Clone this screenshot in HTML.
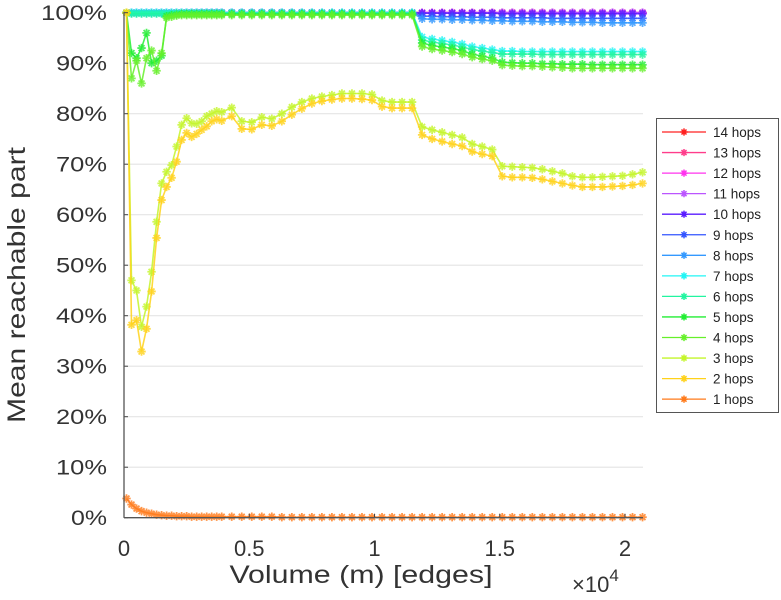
<!DOCTYPE html>
<html><head><meta charset="utf-8"><style>
html,body{margin:0;padding:0;background:#fff;}
svg{display:block;font-family:"Liberation Sans",sans-serif;}
</style></head><body>
<svg id="chart" width="781" height="600" viewBox="0 0 781 600">
<g id="grid"></g>
<g id="series"></g>
<g id="axes"></g>
<text x="25" y="285" transform="rotate(-90 25 285)" text-anchor="middle" font-size="25" fill="#333" textLength="276" lengthAdjust="spacingAndGlyphs">Mean reachable part</text>
<text x="361" y="583" text-anchor="middle" font-size="25" fill="#333" textLength="263" lengthAdjust="spacingAndGlyphs">Volume (m) [edges]</text>
<text x="572" y="592" font-size="22" fill="#333">×10<tspan dy="-11" font-size="17">4</tspan></text>
<g id="legend"></g>
</svg>
<script>
const xs=[100,300,500,700,900,1100,1300,1500,1700,1900,2100,2300,2500,2700,2900,3100,3300,3500,3700,3900,
4300,4700,5100,5500,5900,6300,6700,7100,7500,7900,8300,8700,9100,9500,9900,10300,10700,11100,11500,
11900,12300,12700,13100,13500,13900,14300,14700,15100,15500,15900,16300,16700,17100,17500,17900,18300,18700,19100,19500,19900,20300,20700];
const yTicks=[0,10,20,30,40,50,60,70,80,90,100];
const xTicks=[0,5000,10000,15000,20000];
const xTickLabels=["0","0.5","1","1.5","2"];
const hops1=[3.8,2.6,1.8,1.3,1.0,0.8,0.6,0.5,0.4,0.4,0.3,0.3,0.3,0.2,0.2,0.2,0.2,0.2,0.2,0.2,0.2,0.2,0.2,0.2,0.2,0.1,0.1,0.1,0.1,0.1,0.1,0.1,0.1,0.1,0.1,0.1,0.1,0.1,0.1,0.1,0.1,0.1,0.1,0.1,0.1,0.1,0.1,0.1,0.1,0.1,0.1,0.1,0.1,0.1,0.1,0.1,0.1,0.1,0.1,0.1,0.1,0.1];
const hops2=[100,38.2,39.1,32.9,37.4,44.8,55.4,62.9,65.5,67.3,70.5,74.8,76.2,75.4,76,76.8,77.5,78.5,78.9,78.6,79.5,77,76.9,77.8,77.6,78.5,79.8,81,82,82.5,82.8,83,83,82.9,82.7,81.4,81.1,81.1,81.1,75.8,75,74.5,74,73.6,72.5,72,71.6,67.6,67.4,67.4,67.3,67,66.6,66.2,65.8,65.5,65.5,65.5,65.6,65.7,65.9,66.2];
const hops3=[100,47,45,37.8,41.8,48.7,58.6,66.2,68.5,69.8,73.5,77.8,79.1,78.1,78,78.5,79.5,80,80.5,80.3,81.2,78.5,78.3,79.3,79,80,81.3,82.3,83,83.4,83.7,84,84,84,83.8,82.6,82.3,82.3,82.3,77.4,76.8,76.3,75.8,75.3,74,73.5,72.9,69.6,69.5,69.4,69.3,69,68.6,68.2,67.6,67.4,67.4,67.5,67.6,67.7,68,68.4];
const hops4=[100,87,90.5,86,91,92.5,88.5,92,99,99.2,99.4,99.5,99.5,99.5,99.5,99.5,99.5,99.5,99.5,99.5,99.5,99.5,99.5,99.5,99.5,99.5,99.5,99.5,99.5,99.5,99.5,99.5,99.5,99.5,99.5,99.5,99.5,99.5,99.5,93.3,92.8,92.5,92.2,91.8,91.2,90.8,90.5,89.6,89.5,89.4,89.4,89.3,89.2,89.1,89,89,89,89,89,89,89,89];
const hops5=[100,92,91,93,96,90,90.5,91.5,99.3,99.5,99.6,99.7,99.7,99.7,99.7,99.7,99.7,99.7,99.7,99.7,99.7,99.7,99.7,99.7,99.7,99.7,99.7,99.7,99.7,99.7,99.7,99.7,99.7,99.7,99.7,99.7,99.7,99.7,99.7,94,93.5,93.2,92.9,92.5,91.8,91.4,91,90.2,90.1,90,90,89.9,89.9,89.8,89.8,89.8,89.7,89.7,89.7,89.7,89.7,89.7];
const hops6=[100,99.8,99.8,99.8,99.8,99.8,99.8,99.8,99.8,99.8,99.9,99.9,99.9,99.9,99.9,99.9,99.9,99.9,99.9,99.9,99.9,99.9,99.9,99.9,99.9,99.9,99.9,99.9,99.9,99.9,99.9,99.9,99.9,99.9,99.9,99.9,99.9,99.9,99.9,94.6,94.2,93.9,93.6,93.2,92.7,92.4,92.1,91.8,91.8,91.8,91.8,91.7,91.7,91.7,91.7,91.7,91.7,91.7,91.7,91.7,91.7,91.7];
const hops7=[100,100,100,100,100,100,100,100,100,100,100,100,100,100,100,100,100,100,100,100,100,100,100,100,100,100,100,100,100,100,100,100,100,100,100,100,100,100,100,95.2,94.8,94.5,94.2,93.8,93.3,93,92.7,92.4,92.4,92.3,92.3,92.3,92.3,92.3,92.3,92.3,92.3,92.3,92.3,92.3,92.3,92.3];
const hops8=[100,100,100,100,100,100,100,100,100,100,100,100,100,100,100,100,100,100,100,100,100,100,100,100,100,100,100,100,100,100,100,100,100,100,100,100,100,100,100,98.8,98.7,98.7,98.6,98.6,98.5,98.5,98.4,98.4,98.3,98.3,98.3,98.2,98.2,98.2,98.1,98.1,98.1,98.0,98.0,98.0,98.0,98.0];
const hops9=[100,100,100,100,100,100,100,100,100,100,100,100,100,100,100,100,100,100,100,100,100,100,100,100,100,100,100,100,100,100,100,100,100,100,100,100,100,100,100,99.3,99.3,99.2,99.2,99.2,99.1,99.1,99.1,99.0,99.0,99.0,99.0,99.0,98.9,98.9,98.9,98.9,98.9,98.9,98.9,98.9,98.9,98.9];
const hops10=[100,100,100,100,100,100,100,100,100,100,100,100,100,100,100,100,100,100,100,100,100,100,100,100,100,100,100,100,100,100,100,100,100,100,100,100,100,100,100,99.9,99.9,99.9,99.9,99.9,99.9,99.9,99.9,99.8,99.8,99.8,99.8,99.8,99.8,99.8,99.8,99.8,99.8,99.8,99.8,99.8,99.8,99.8];
const hops11=[100,100,100,100,100,100,100,100,100,100,100,100,100,100,100,100,100,100,100,100,100,100,100,100,100,100,100,100,100,100,100,100,100,100,100,100,100,100,100,100,100,100,100,100,100,100,100,100,100,100,100,100,100,100,100,100,100,100,100,100,100,100];
const hops12=hops11.slice();
const hops13=hops11.slice();
const hops14=hops11.slice();
const seriesNames=["14 hops","13 hops","12 hops","11 hops","10 hops","9 hops","8 hops","7 hops","6 hops","5 hops","4 hops","3 hops","2 hops","1 hops"];
const seriesValues=[hops14,hops13,hops12,hops11,hops10,hops9,hops8,hops7,hops6,hops5,hops4,hops3,hops2,hops1];
const seriesColors=["#ff2020","#ff3d8b","#ff33ee","#bb55ff","#5a1cff","#3355ff","#3399ff","#22f5f5","#22f5a0","#22ee33","#66f02a","#c4f52a","#ffd21a","#ff7a1a"];

const NS="http://www.w3.org/2000/svg";
const X0=124,X1=643,Y0=517.7,Y1=12.7;
function xScale(v){return X0+v*0.02505;}
function yScale(v){return Y0+(Y1-Y0)*v/100;}
function mk(tag,attrs,parent){const e=document.createElementNS(NS,tag);for(const k in attrs)e.setAttribute(k,attrs[k]);parent.appendChild(e);return e;}
const grid=document.getElementById('grid'),axes=document.getElementById('axes'),sg=document.getElementById('series'),lg=document.getElementById('legend');

yTicks.forEach(t=>{
  const y=yScale(t);
  if(t>0){const l=mk('line',{x1:X0,x2:X1,y1:y,y2:y,stroke:'#e4e4e4','stroke-width':1.2},grid);
  
  }
  const tk=mk('line',{x1:X0,x2:X0+4,y1:y,y2:y,stroke:'#444'},axes);
  
  
  const s=t+'%';
  const tx=mk('text',{x:107,y:y+7.5,'text-anchor':'end','font-size':21,fill:'#333',textLength:15*(s.length-1)+21,lengthAdjust:'spacingAndGlyphs'},axes);
  tx.textContent=s;
  
  
});
xTicks.forEach((t,i)=>{
  const x=xScale(t);
  const tk=mk('line',{x1:x,x2:x,y1:Y0,y2:Y0-4,stroke:'#444'},axes);
  
  
  const tx=mk('text',{x:x,y:556,'text-anchor':'middle','font-size':22,fill:'#333'},axes);
  tx.textContent=xTickLabels[i];
  
  
});
const ya=mk('line',{x1:X0,x2:X0,y1:Y1-1,y2:Y0,stroke:'#555','stroke-width':1.3},axes);


const xa=mk('line',{x1:X0,x2:X1,y1:Y0,y2:Y0,stroke:'#555','stroke-width':1.3},axes);



function star(cx,cy,r){
  return `M${cx-r},${cy}H${cx+r}M${cx},${cy-r}V${cy+r}M${cx-r*0.7},${cy-r*0.7}L${cx+r*0.7},${cy+r*0.7}M${cx-r*0.7},${cy+r*0.7}L${cx+r*0.7},${cy-r*0.7}`;
}
seriesValues.forEach((vals,si)=>{
  const g=mk('g',{},sg);
  
  
  const pts=vals.map((v,i)=>xScale(xs[i]).toFixed(1)+','+yScale(v).toFixed(1)).join(' ');
  const pl=mk('polyline',{points:pts,fill:'none',stroke:seriesColors[si],'stroke-width':1.6,'stroke-opacity':0.85},g);
  
  
  let d='';
  vals.forEach((v,i)=>{d+=star(xScale(xs[i]),yScale(v),4.2);});
  const m=mk('path',{d:d,fill:'none',stroke:seriesColors[si],'stroke-width':1.8,'stroke-opacity':0.8},g);
  
  
});

const box=mk('rect',{x:656.5,y:118.5,width:122,height:294,fill:'#fff',stroke:'#555','stroke-width':1},lg);


seriesNames.forEach((n,i)=>{
  const y=132+i*20.55;
  const g=mk('g',{},lg);
  
  
  mk('line',{x1:662,x2:706,y1:y,y2:y,stroke:seriesColors[i],'stroke-width':1.3},g);
  mk('path',{d:star(684,y,3.6),stroke:seriesColors[i],'stroke-width':1.5,fill:'none'},g);
  const t=mk('text',{x:713,y:y+5,'font-size':13.5,fill:'#222'},g);
  t.textContent=n;
});
</script>
</body></html>
